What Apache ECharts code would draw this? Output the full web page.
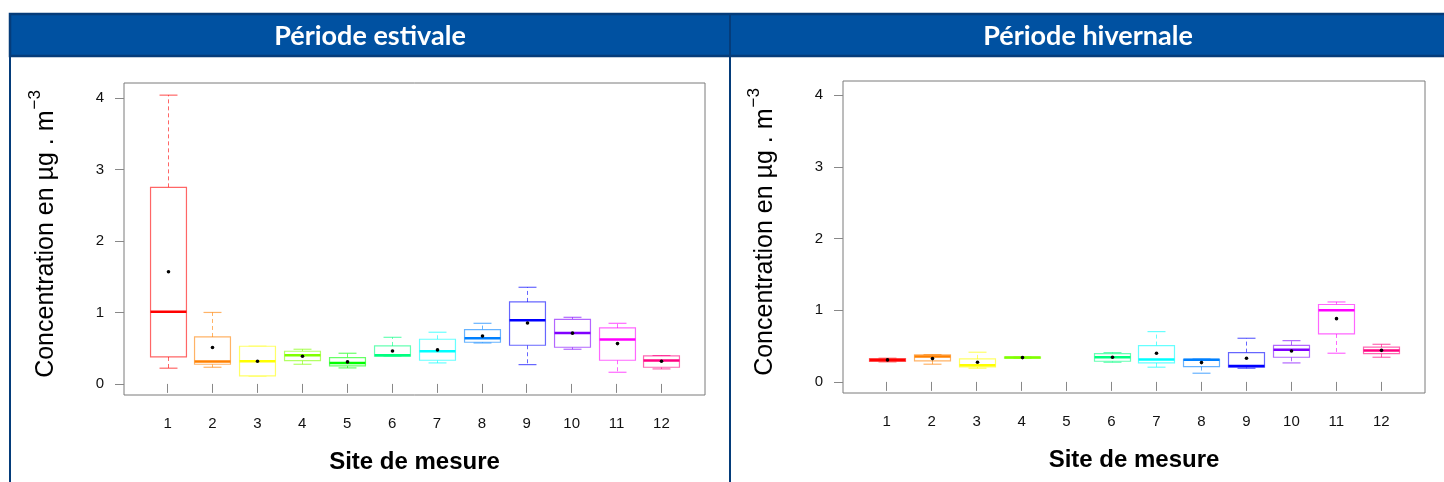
<!DOCTYPE html>
<html>
<head>
<meta charset="utf-8">
<script src="https://cdn.jsdelivr.net/npm/echarts@6.0.0/dist/echarts.min.js"></script>
<style>
  html, body { margin: 0; padding: 0; background: #ffffff; }
  #chart { width: 1444px; height: 482px; }
</style>
</head>
<body>
<div id="chart"></div>
<script>
// Measurement sites and their colours (rainbow palette)
const sites = [1, 2, 3, 4, 5, 6, 7, 8, 9, 10, 11, 12];
const siteColors = ['#FF0000', '#FF8000', '#FFFF00', '#80FF00', '#00FF00', '#00FF80',
                    '#00FFFF', '#0080FF', '#0000FF', '#8000FF', '#FF00FF', '#FF0080'];
const yTicks = [0, 1, 2, 3, 4];

// Summer period: whisker ends, quartiles, median and mean (µg/m³)
const summerMin    = [0.22, 0.233, 0.112, 0.275, 0.224, 0.387, 0.294, 0.573, 0.27, 0.485, 0.163, 0.21];
const summerQ1     = [0.377, 0.275, 0.112, 0.326, 0.252, 0.387, 0.331, 0.583, 0.541, 0.513, 0.331, 0.233];
const summerMedian = [1.01, 0.312, 0.317, 0.401, 0.294, 0.401, 0.457, 0.639, 0.89, 0.713, 0.62, 0.326];
const summerQ3     = [2.75, 0.657, 0.527, 0.457, 0.368, 0.531, 0.625, 0.76, 1.147, 0.904, 0.783, 0.392];
const summerMax    = [4.04, 1.0, 0.527, 0.485, 0.429, 0.652, 0.723, 0.848, 1.352, 0.932, 0.848, 0.396];
const summerMean   = [1.57, 0.51, 0.317, 0.387, 0.308, 0.461, 0.476, 0.671, 0.853, 0.71, 0.564, 0.317];

// Winter period (no data for site 5)
const winterMin    = [0.28, 0.247, 0.191, 0.33, null, 0.274, 0.205, 0.121, 0.19, 0.265, 0.40, 0.344];
const winterQ1     = [0.285, 0.293, 0.209, 0.332, null, 0.288, 0.265, 0.214, 0.205, 0.344, 0.669, 0.395];
const winterMedian = [0.305, 0.353, 0.233, 0.339, null, 0.344, 0.311, 0.31, 0.223, 0.45, 1.0, 0.437];
const winterQ3     = [0.325, 0.377, 0.321, 0.345, null, 0.395, 0.507, 0.316, 0.409, 0.511, 1.08, 0.484];
const winterMax    = [0.33, 0.38, 0.414, 0.347, null, 0.409, 0.702, 0.32, 0.609, 0.576, 1.116, 0.525];
const winterMean   = [0.307, 0.325, 0.274, 0.339, null, 0.344, 0.40, 0.269, 0.33, 0.432, 0.883, 0.44];

function boxData(mins, q1s, meds, q3s, maxs, means) {
  return sites
    .map((s, i) => [s, mins[i], q1s[i], meds[i], q3s[i], maxs[i], means[i]])
    .filter(d => d[1] !== null);
}

function fade(hex, a) {
  const n = parseInt(hex.slice(1), 16);
  return 'rgba(' + ((n >> 16) & 255) + ',' + ((n >> 8) & 255) + ',' + (n & 255) + ',' + a + ')';
}

// Draws one box-and-whisker with its mean point
function renderBox(params, api) {
  const site = api.value(0);
  const color = siteColors[site - 1];
  const light = fade(color, 0.6);
  const halfBox = api.size([0.4, 0])[0];
  const halfCap = api.size([0.2, 0])[0];
  const cx = Math.round(api.coord([site, 0])[0]) + 0.5;
  const y = v => api.coord([site, v])[1];
  const yMin = y(api.value(1)), yQ1 = y(api.value(2)), yMed = y(api.value(3));
  const yQ3 = y(api.value(4)), yMax = y(api.value(5)), yMean = y(api.value(6));
  const dashed = { stroke: light, lineWidth: 1, lineDash: [4, 3] };
  const solid = { stroke: light, lineWidth: 1.2 };
  return {
    type: 'group',
    children: [
      { type: 'line', shape: { x1: cx, y1: yQ3, x2: cx, y2: yMax }, style: dashed },
      { type: 'line', shape: { x1: cx, y1: yQ1, x2: cx, y2: yMin }, style: dashed },
      { type: 'line', shape: { x1: cx - halfCap, y1: yMax, x2: cx + halfCap, y2: yMax }, style: solid },
      { type: 'line', shape: { x1: cx - halfCap, y1: yMin, x2: cx + halfCap, y2: yMin }, style: solid },
      { type: 'rect', shape: { x: cx - halfBox, y: yQ3, width: 2 * halfBox, height: yQ1 - yQ3 },
        style: { fill: '#ffffff', stroke: light, lineWidth: 1.2 } },
      { type: 'line', shape: { x1: cx - halfBox, y1: yMed, x2: cx + halfBox, y2: yMed },
        style: { stroke: color, lineWidth: 2.5 } },
      { type: 'circle', shape: { cx: cx, cy: yMean, r: 1.8 }, style: { fill: '#000000' } }
    ]
  };
}

const labelFont = 'Liberation Sans, Arial, sans-serif';

function xAxisFor(gridIndex) {
  return {
    type: 'value', gridIndex: gridIndex, min: 0.03, max: 12.97,
    splitLine: { show: false },
    axisLine: { show: false },
    axisTick: { show: true, length: 9, customValues: sites, lineStyle: { color: '#888888' } },
    axisLabel: { customValues: sites, margin: 21, fontSize: 15, color: '#111111', fontFamily: labelFont },
    name: 'Site de mesure', nameLocation: 'middle', nameGap: 55,
    nameTextStyle: { fontSize: 24, fontWeight: 'bold', color: '#000000', fontFamily: labelFont }
  };
}

function yAxisFor(gridIndex, max) {
  return {
    type: 'value', gridIndex: gridIndex, min: -0.155, max: max,
    splitLine: { show: false },
    axisLine: { show: false },
    axisTick: { show: true, length: 9, customValues: yTicks, lineStyle: { color: '#888888' } },
    axisLabel: { customValues: yTicks, margin: 20, fontSize: 15, color: '#111111', fontFamily: labelFont },
    name: '{t|Concentration en µg . m}{s|−3}', nameLocation: 'middle', nameGap: 65,
    nameTextStyle: {
      color: '#000000', fontFamily: labelFont, padding: [0, 0, 0, 10],
      rich: {
        t: { fontSize: 25, fontFamily: labelFont, color: '#000000', lineHeight: 32, verticalAlign: 'bottom' },
        s: { fontSize: 17, fontFamily: labelFont, color: '#000000', lineHeight: 32, verticalAlign: 'top', padding: [0, 0, 0, 1] }
      }
    }
  };
}

const headerBlue = '#0051A1';
const borderBlue = '#053C7A';

const chart = echarts.init(document.getElementById('chart'), null, { renderer: 'canvas' });
chart.setOption({
  animation: false,
  backgroundColor: '#ffffff',
  grid: [
    { left: 124, top: 83, width: 581, height: 312, show: true, borderColor: '#7a7a7a', borderWidth: 1, backgroundColor: 'transparent' },
    { left: 843, top: 81, width: 582, height: 312, show: true, borderColor: '#7a7a7a', borderWidth: 1, backgroundColor: 'transparent' }
  ],
  xAxis: [xAxisFor(0), xAxisFor(1)],
  yAxis: [yAxisFor(0, 4.21), yAxisFor(1, 4.2)],
  graphic: [
    { type: 'rect', shape: { x: 10, y: 14, width: 1440, height: 42 },
      style: { fill: headerBlue, stroke: borderBlue, lineWidth: 2.5 }, z: 10 },
    { type: 'line', shape: { x1: 730, y1: 14, x2: 730, y2: 482 }, style: { stroke: borderBlue, lineWidth: 2 }, z: 11 },
    { type: 'line', shape: { x1: 10, y1: 14, x2: 10, y2: 482 }, style: { stroke: borderBlue, lineWidth: 2 }, z: 11 },
    { type: 'text', x: 370, y: 36, z: 12,
      style: { text: 'Période estivale', fill: '#ffffff', font: 'bold 27px Lato, sans-serif',
               align: 'center', verticalAlign: 'middle', textAlign: 'center', textVerticalAlign: 'middle' } },
    { type: 'text', x: 1088, y: 36, z: 12,
      style: { text: 'Période hivernale', fill: '#ffffff', font: 'bold 27px Lato, sans-serif',
               align: 'center', verticalAlign: 'middle', textAlign: 'center', textVerticalAlign: 'middle' } }
  ],
  series: [
    { type: 'custom', name: 'Période estivale', xAxisIndex: 0, yAxisIndex: 0,
      renderItem: renderBox, encode: { x: 0, y: [1, 2, 3, 4, 5, 6] },
      data: boxData(summerMin, summerQ1, summerMedian, summerQ3, summerMax, summerMean) },
    { type: 'custom', name: 'Période hivernale', xAxisIndex: 1, yAxisIndex: 1,
      renderItem: renderBox, encode: { x: 0, y: [1, 2, 3, 4, 5, 6] },
      data: boxData(winterMin, winterQ1, winterMedian, winterQ3, winterMax, winterMean) }
  ]
});
</script>
</body>
</html>
